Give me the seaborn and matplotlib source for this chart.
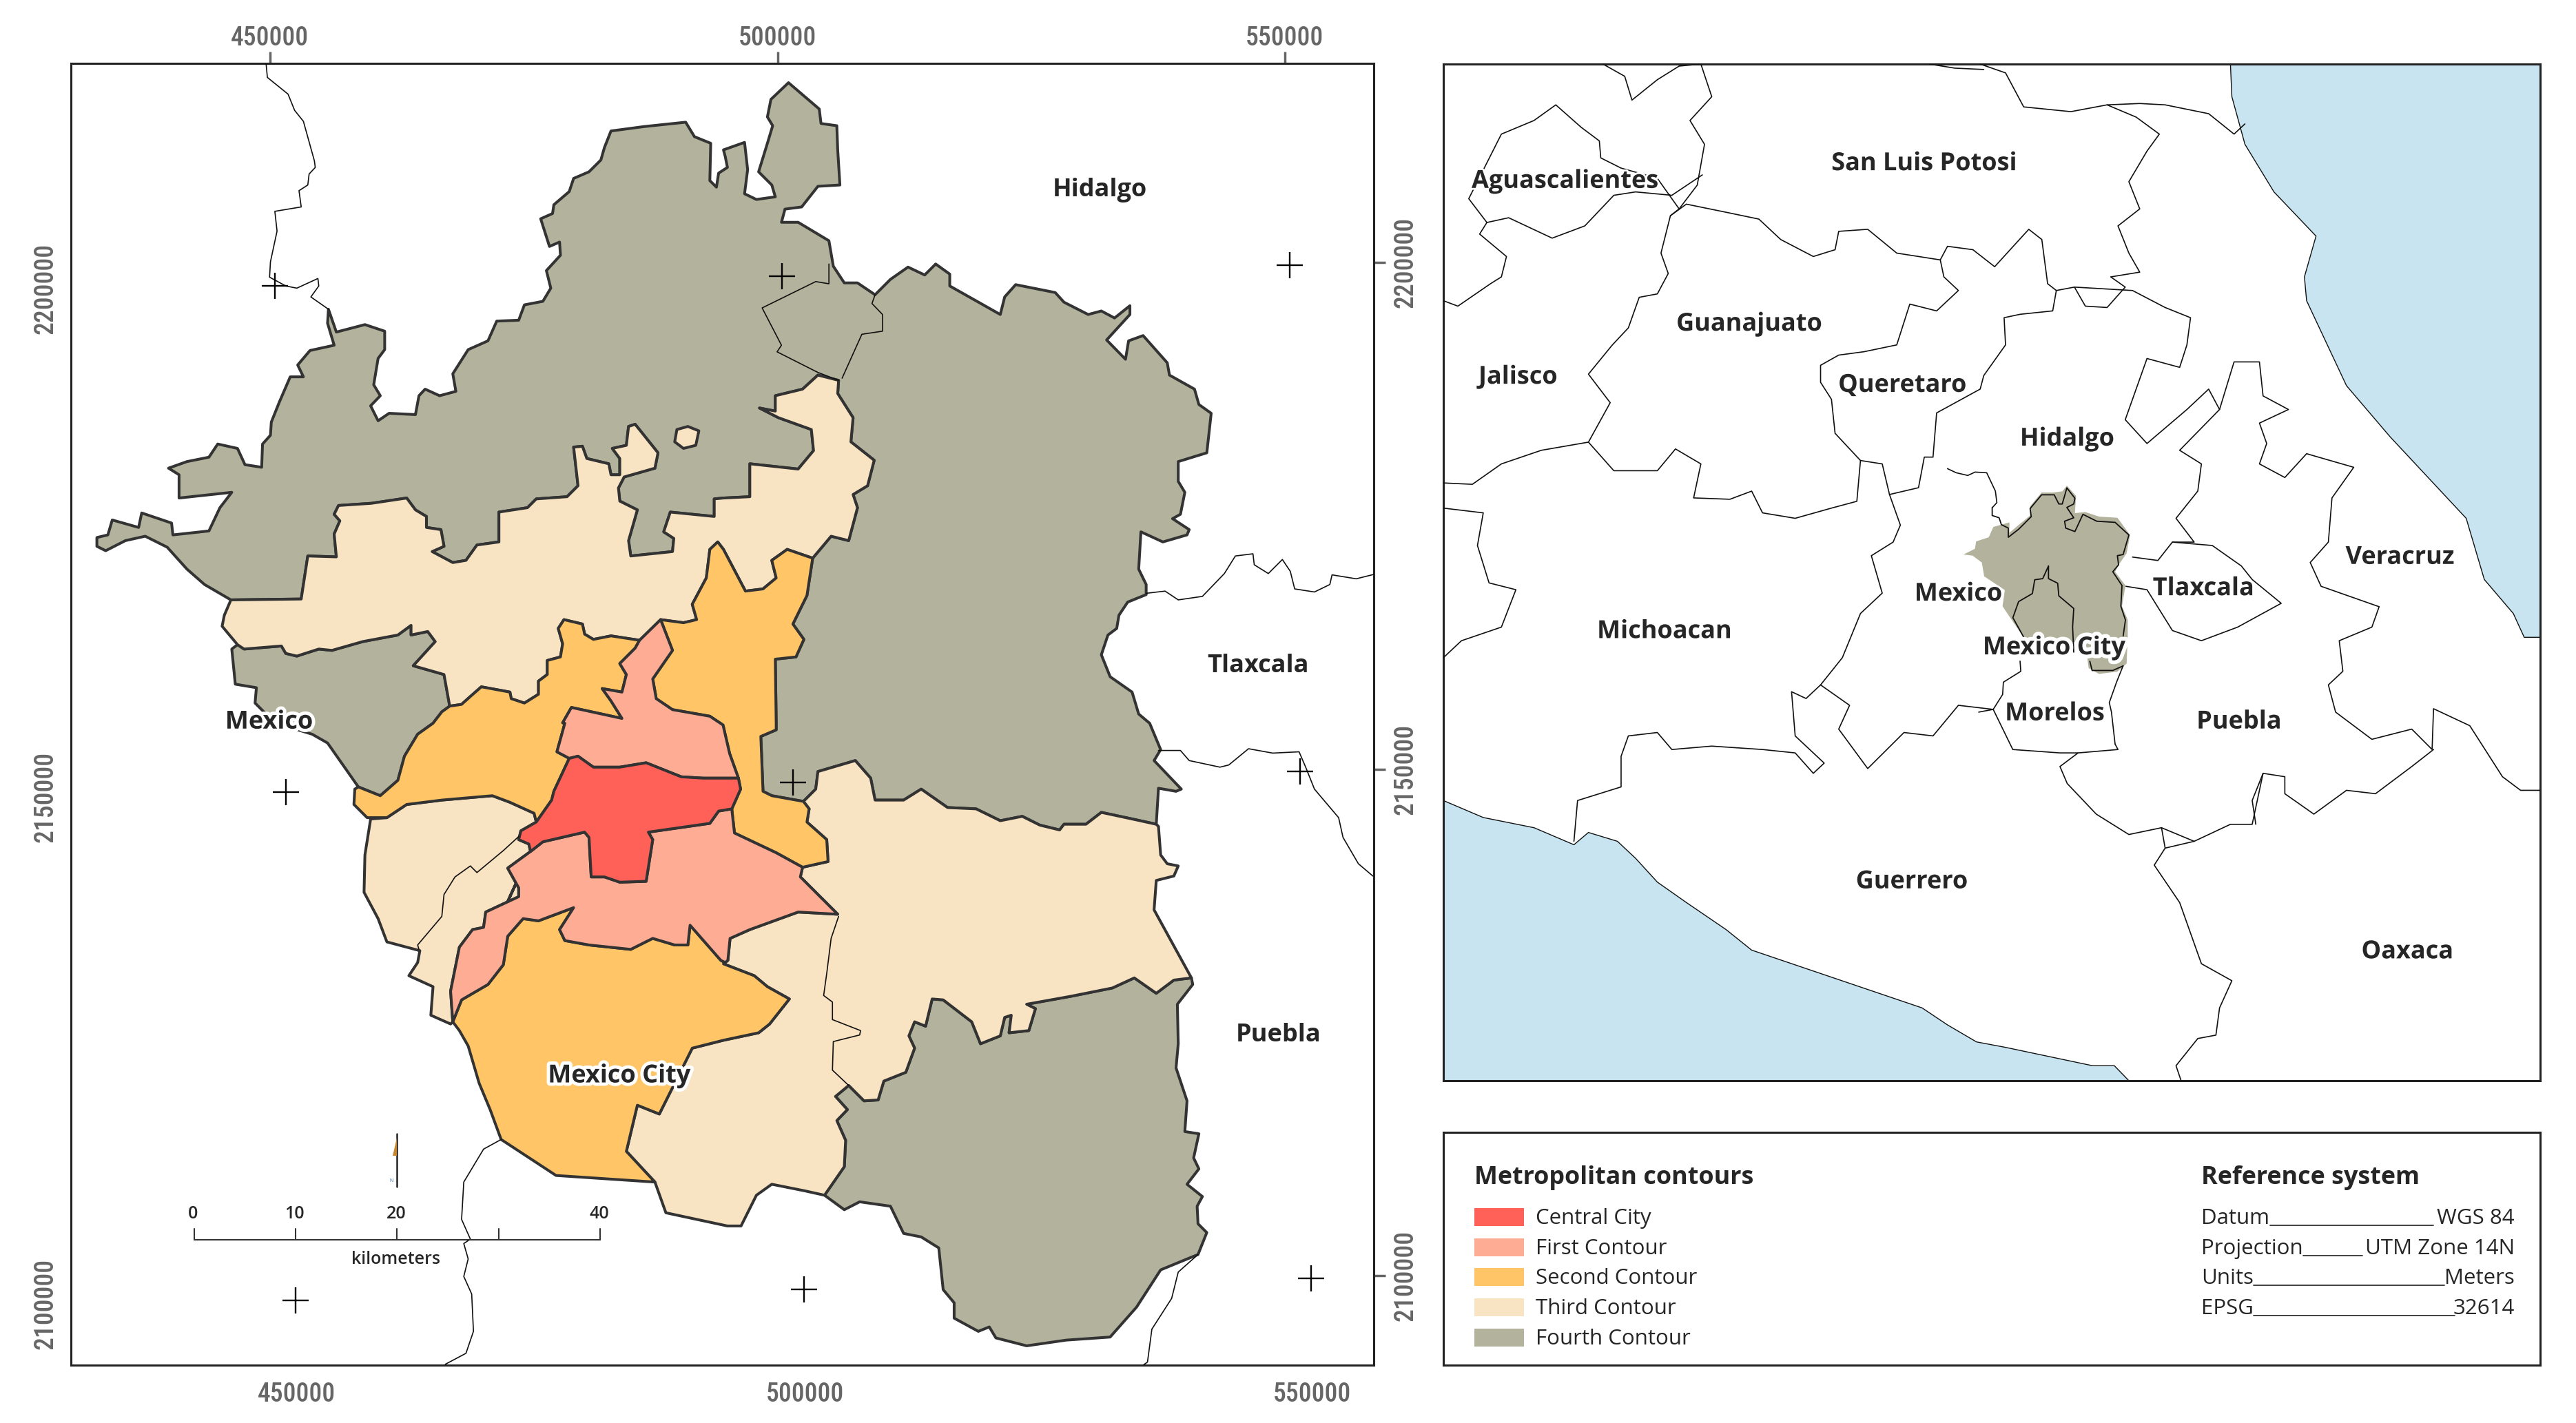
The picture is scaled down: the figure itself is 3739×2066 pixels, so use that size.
import numpy as np
import matplotlib
matplotlib.use("Agg")
import matplotlib.pyplot as plt
import matplotlib.patheffects as pe
from matplotlib import font_manager as fm
from matplotlib.patches import Rectangle
import seaborn as sns

sns.set_theme(style="white")
plt.rcParams["font.family"] = ["Open Sans", "DejaVu Sans"]

W, H = 3739, 2066
Z = 1521

def z2(p): return [(x + Z, y) for x, y in p]
def z3(p): return [(x, y + Z) for x, y in p]
def z6(p): return [(x + Z, y + Z) for x, y in p]
def rev(p): return list(p)[::-1]

# ---------- main map: shared boundary segments ----------
seg_A = ([(400,1240),(340,1205),(300,1170),(255,1120),(205,1095),(160,1105),(115,1128),(95,1118),(95,1098),(120,1092),
          (130,1058),(190,1075),(197,1042),(265,1065),(268,1092),(350,1083),(375,1030),(402,995),(282,1008),(282,955),
          (258,940),(300,925),(350,915),(370,885),(415,895),(432,932),(470,938),(472,885),(490,865),(492,835),(510,790),
          (535,732),(565,732),(552,705),(580,672),(635,660),(620,610),(622,578),(640,630),(705,613),(750,628),(750,670),
          (735,690),(725,750),(740,775),(718,798),(735,832),(760,815),(820,818),(828,775),(842,760),(875,775),(912,765),
          (905,725),(940,670),(985,650),(1005,605),(1055,603),(1068,568),(1110,560),(1128,530),(1118,490),(1150,455),
          (1148,425),(1125,435),(1105,372),(1132,360),(1135,340),(1170,310),(1180,280),(1215,265),(1242,238),(1250,210),
          (1265,172),(1340,162),(1435,152),(1455,185),(1492,200),(1490,285),(1505,300),(1510,268),(1530,255),(1525,230)]
         + z2([(0,215),(48,198),(55,260),(48,315),(75,328),(118,322),(110,295),(80,265),(100,200),(112,160),(100,140),
               (108,100),(148,62),(218,122),(222,155),(258,160),(260,215),(265,295),(215,298),(178,345),(140,350),(132,380),
               (170,380),(240,422),(250,480),(275,518),(305,518),(345,545),(380,510),(420,482),(458,500),(483,475),(515,498),
               (515,525),(630,590),(640,550),(665,522),(755,540),(775,562),(830,590),(860,582),(890,598),(925,570),(925,590),
               (872,648),(915,692),(922,650),(955,638),(1010,700),(1015,728),(1072,760),(1082,795),(1110,815),(1100,905),
               (1035,925),(1035,970),(1050,995),(1040,1045),(1022,1055),(1060,1080),(1055,1092),(1000,1108),(950,1085),
               (945,1170),(962,1205),(962,1228),(920,1245),(900,1275),(895,1305),(875,1320),(860,1365),(880,1415),(930,1450),
               (945,1500)])
         + z6([(970,0),(995,60),(980,85),(1042,150),(1030,155),(990,148),(985,230)]))
seg_B = z6([(985,230),(930,218),(860,203),(825,230),(775,230),(765,243),(720,232),(680,212),(630,222),(575,195),(510,192),
            (450,150),(410,175),(345,175),(335,125),(300,85),(215,110),(210,150),(182,178)])
seg_C = (z6([(182,178),(110,165),(90,155),(85,30),(120,15),(120,0)])
         + z2([(118,1375),(165,1370),(183,1330),(158,1295),(190,1230),(203,1145)]))
seg_D = (z2([(203,1145),(245,1095),(285,1105),(305,1030),(295,1000),(328,980),(343,922),(290,880),(295,825),(260,770),
             (262,740),(215,728),(180,760),(118,775),(118,810),(82,803),(125,825),(200,852),(205,900),(170,942),(60,930),
             (60,1005),(0,1008)])
         + [(1500,1010),(1500,1050),(1400,1040),(1385,1085),(1408,1100),(1405,1130),(1310,1140),(1305,1105),(1325,1035),
            (1285,1015),(1282,985),(1295,960),(1365,940),(1372,905),(1320,840),(1305,845),(1300,888),(1268,895),(1285,918),
            (1285,955),(1265,955),(1260,930),(1210,918),(1200,890),(1180,892),(1190,980),(1165,1005),(1095,1010),(1075,1030),
            (1010,1040),(1010,1108),(960,1115),(935,1150),(905,1155),(858,1130),(885,1118),(878,1080),(845,1075),(845,1050),
            (820,1035),(800,1008),(720,1020),(645,1025),(635,1045),(648,1060),(635,1090),(640,1142),(575,1140),(560,1238),
            (400,1240)])
seg_E1 = z2([(203,1145),(145,1125),(110,1150),(120,1190),(90,1215),(50,1220),(0,1125)]) + [(1508,1108)]
seg_E2 = [(1508,1108),(1490,1125),(1482,1190),(1450,1250),(1460,1285),(1430,1292),(1378,1285)]
seg_E4 = [(1330,1332),(1265,1322),(1225,1330),(1205,1318),(1200,1295),(1158,1285),(1145,1305),(1155,1340),(1150,1370),
          (1120,1378),(1120,1410),(1100,1425),(1100,1455),(1068,1475),(1038,1465),(1035,1450),(970,1438),(945,1460),
          (925,1478),(898,1482)]
seg_E5 = [(898,1482),(885,1410),(815,1390),(865,1335),(848,1312),(810,1320),(810,1298),(780,1320),(700,1335),(630,1355),
          (600,1352),(550,1368),(525,1362),(515,1345),(430,1352),(415,1342)]
seg_E6 = [(415,1342),(380,1300),(385,1275),(400,1240)]
seg_F1 = [(898,1482),(880,1495),(860,1521),(825,1546),(795,1596),(780,1651),(740,1686),(690,1666)]
seg_F2 = [(690,1666),(620,1566),(585,1546),(500,1520),(455,1475),(458,1440),(410,1432),(402,1352),(415,1342)]
seg_H = z3([(755,215),(800,185),(880,175),(995,165),(1035,180),(1090,205),(1095,225)])
seg_J = z3([(1095,225),(1130,175),(1135,155),(1170,80)])
seg_K = (z3([(1170,80),(1142,65),(1160,0)])
         + [(1155,1520),(1175,1485),(1290,1510),(1265,1470),(1245,1442),(1290,1450),(1300,1410),(1285,1385),(1320,1350),(1330,1332)])
seg_L = z3([(1170,80),(1190,75),(1225,100),(1285,100),(1345,90),(1425,122),(1475,125),(1555,125)])
seg_M = [(1378,1285),(1405,1355),(1360,1420),(1368,1465),(1405,1490),(1490,1505),(1520,1525),(1535,1590),(1555,1646)]
seg_N1 = z3([(1555,125),(1560,150),(1540,195)])
seg_N2 = z3([(1540,195),(1510,200),(1490,228),(1350,248),(1360,265),(1345,360),(1285,362),(1250,350),(1220,350),(1215,260),
             (1205,248),(1110,270),(1082,292)])
seg_N3 = z3([(1082,292),(1078,275),(1055,265),(1060,245),(1095,225)])
seg_O = z6([(182,178),(195,195),(190,225),(235,265),(238,315),(180,328)])
seg_Q = z6([(180,328),(120,295),(25,250),(20,205)]) + z3([(1540,195)])
seg_R = z6([(180,328),(175,350),(260,435)])
seg_V = z6([(260,435),(170,430),(60,470),(15,490),(10,540)]) + [(1525,2066)]
seg_W = [(1525,2066),(1515,2061),(1445,1981),(1440,2026),(1410,2026),(1360,2011),(1310,2036),(1215,2026),(1160,2016),
         (1148,1991),(1180,1941),(1100,1971),(1065,1966),(1030,2006),(1020,2071),(985,2116),(925,2151),(905,2201)]
seg_X = [(905,2201),(900,2131),(920,2031),(950,1991),(975,1986),(980,1951),(1055,1916),(1055,1896),(1030,1851),(1082,1813)]
seg_Y = z3([(755,215),(718,218),(705,300),(703,385),(735,445),(755,498),(830,518),(825,545),(805,575),(860,600),(855,665),
            (900,685)]) + [(905,2201)]
seg_Z = [(905,2201),(920,2221),(940,2256),(965,2341),(990,2401),(1015,2469),(1140,2551),(1365,2566)]
seg_AA = [(1365,2566),(1300,2496),(1325,2391),(1375,2411),(1450,2261),(1521,2243),(1601,2226),(1626,2206),(1671,2149),
          (1621,2121),(1591,2096),(1521,2069),(1525,2066)]
seg_BB = [(1365,2566),(1390,2636),(1530,2666),(1561,2666),(1596,2596),(1631,2571),(1706,2586),(1751,2596)]
seg_CC = [(1751,2596),(1796,2531),(1799,2471),(1779,2426),(1803,2401),(1776,2371),(1806,2346)]
seg_DD = z6([(1065,580),(1025,585),(985,615),(935,580),(885,603),(790,622),(690,640),(710,650),(695,700),(650,705),(655,665),
             (640,670),(630,712),(585,730),(565,680),(500,630),(475,628),(460,690),(435,680),(422,712),(435,740),(415,795),
             (365,815),(352,858),(320,860),(285,825)])
seg_EE = z6([(985,230),(990,235),(995,300),(1010,320),(1035,325),(1025,348),(985,358),(980,425),(1065,580)])
seg_GG = z6([(1065,580),(1068,595),(1033,640),(1035,730),(1030,785),(1055,860),(1050,930),(1082,935),(1070,990),(1082,1015),
             (1055,1050),(1090,1078),(1078,1100),(1080,1140),(1100,1160),(1080,1210),(995,1245),(940,1330),(880,1398),(780,1405),
             (690,1418),(620,1400),(605,1375),(580,1385),(525,1355),(525,1320),(500,1290),(490,1195),(450,1170),(410,1162),
             (380,1100),(310,1090),(275,1108)]) + [(1751,2596)]
seg_S1_tip = z3([(690,145),(682,150),(680,185),(710,215),(755,215)])

central_city = seg_L + seg_N1 + seg_N2 + seg_N3 + seg_J
first_north = rev(seg_K) + seg_L + rev(seg_N1[:1]) + rev(seg_M)
first_south = rev(seg_Q) + seg_R + seg_V + seg_W + seg_X + rev(seg_N2)
second_nw = seg_E4 + seg_F1 + seg_S1_tip + seg_H + seg_J + seg_K
second_east = rev(seg_E1) + rev(seg_C) + seg_O + seg_Q + rev(seg_N1) + rev(seg_M) + rev(seg_E2)
second_south = seg_W + seg_Z + seg_AA
third_north = seg_E1 + seg_E2 + [(1330,1332)] + seg_E4 + seg_E5 + seg_E6 + rev(seg_D)
third_sw = seg_Y + rev(seg_X) + seg_N3 + rev(seg_H)
third_se = seg_V + rev(seg_AA) + seg_BB + seg_CC + rev(seg_DD) + rev(seg_EE) + seg_B + seg_O + seg_R
third_island = [(1415,852),(1440,845),(1465,855),(1458,888),(1430,895),(1410,880)]
fourth_main = seg_A + seg_B + seg_C + seg_D
fourth_west = rev(seg_E5) + seg_F1 + seg_F2
fourth_se = seg_DD + rev(seg_CC) + rev(seg_GG)

region_fill = [("Fourth Contour", fourth_main), ("Fourth Contour", fourth_west), ("Fourth Contour", fourth_se),
               ("Third Contour", third_north), ("Third Contour", third_sw), ("Third Contour", third_se),
               ("Third Contour", third_island), ("Second Contour", second_nw), ("Second Contour", second_east),
               ("Second Contour", second_south), ("First Contour", first_north), ("First Contour", first_south),
               ("Central City", central_city)]

main_thin = [
    [(480,18),(483,50),(530,88),(545,125),(565,150),(590,240),(592,255),(578,270),(575,295),(555,308),(560,345),(500,355),
     (505,400),(490,470),(488,505),(525,525),(550,530),(598,508),(600,525),(582,550),(622,578)],
    z2([(962,1225),(1005,1220),(1035,1240),(1090,1232),(1140,1180),(1165,1140),(1205,1135),(1208,1160),(1240,1180),(1272,1148),
        (1290,1175),(1300,1215),(1345,1222),(1380,1205),(1385,1183),(1440,1192),(1480,1182)]),
    z6([(990,62),(1040,62),(1060,85),(1130,100),(1150,95),(1195,58),(1250,68),(1310,65),(1325,100),(1345,150),(1400,215),
        (1410,260),(1445,320),(1478,348)]),
    z3([(1015,948),(975,970),(930,1045),(925,1130),(945,1175),(930,1185),(940,1220),(930,1260),(948,1300),(952,1385),(935,1435),
        (888,1460)]),
    z6([(1080,1210),(1035,1250),(1020,1310),(975,1380),(965,1455),(955,1462)]),
    z2([(240,475),(240,520),(210,515),(88,575),(132,660),(122,675),(215,722),(262,740)]),
    z2([(345,545),(338,565),(362,590),(362,628),(315,635),(270,735)]),
    z3([(1055,258),(1020,290),(960,340),(945,325),(910,350),(885,390),(880,440),(825,505),(828,515)]),
    z6([(262,440),(245,490),(235,570),(228,620),(248,635),(248,675),(312,700),(310,710),(250,725),(248,790),(285,825)]),
]
cross_x = [500, 133+Z, 1288+Z, 525, 547, 158+Z, 184+Z, 1312+Z, 1338+Z]
cross_y = [524, 502, 477, 157+Z, 1315+Z, 135+Z, 1290+Z, 110+Z, 1265+Z]

top_ticks = [489, 1644, 2798]
bottom_ticks = [549, 1706, 2861]
left_ticks = [531, 1689, 2843]
right_ticks = [471, 1626, 2779]
easting_labels = ["450000", "500000", "550000"]
northing_labels = ["2200000", "2150000", "2100000"]

main_labels = [("Hidalgo", 2377, 305), ("Tlaxcala", 2738, 1388), ("Puebla", 2784, 2229), ("Mexico", 487, 1517), ("Mexico City", 1284, 2323)]

scale_km = [0, 10, 20, 30, 40]
scale_text = ["0", "10", "20", "", "40"]

# ---------- locator map ----------
sea_ne = [(1090,12),(1092,60),(1110,130),(1150,200),(1208,265),(1192,325),(1195,360),(1250,485),(1310,560),(1415,680),(1440,770),
          (1480,820),(1495,855),(1517,855),(1517,12)]
sea_sw = [(5,1095),(60,1120),(130,1135),(185,1160),(205,1142),(245,1155),(270,1180),(300,1215),(340,1245),(395,1285),(430,1315),
          (665,1400),(700,1425),(740,1450),(780,1458),(900,1485),(930,1485),(950,1507),(5,1507)]
state_lines = [
    [(330,225),(300,180),(250,165),(222,150),(220,125),(195,105),(160,72),(130,95),(85,115),(40,210),(65,245),(95,238),(155,268),(200,250),(240,205),(270,200),(320,205),(362,175)],
    [(225,12),(255,30),(265,65),(300,35),(330,15),(360,12),(375,60),(345,95),(365,130),(355,190),(330,225),(318,235),(305,290),(315,320),(300,350),(275,355),(260,400),(238,425),(205,468),(235,510),(205,568)],
    [(318,235),(340,218),(395,230),(440,240),(470,270),(515,295),(545,285),(550,258),(590,255),(630,290),(690,300),(700,280),(735,285),(765,310),(812,255),(830,270),(838,335),(850,345),(875,340),(890,368),(920,370),(945,340),(925,325),(965,318),(950,290),(935,250),(965,225),(950,185),(975,140),(992,115),(960,90),(920,72),(870,82),(805,75),(780,25),(745,12)],
    [(675,12),(710,18),(750,20)],
    [(920,72),(965,70),(1000,72),(1060,85),(1095,115),(1110,100)],
    [(5,360),(25,368),(70,335),(85,325),(92,295),(55,262),(65,245)],
    [(5,628),(45,630),(85,600),(140,580),(205,568),(240,610),(300,610),(325,578),(360,600),(350,650),(400,652),(430,640),(445,672),(490,680),(540,665),(575,655),(580,595),(545,555),(540,505),(525,480),(525,455),(550,440),(585,435),(630,425),(648,365),(685,375),(715,345),(695,325),(690,300)],
    [(580,595),(610,600),(620,645),(660,635),(668,590),(680,590),(685,525),(745,490),(750,470),(780,425),(778,385),(800,380),(845,375),(850,345)],
    [(875,340),(955,345),(1000,370),(1035,385),(1030,425),(1020,458),(975,445),(960,490),(945,535),(975,570),(1030,520),(1060,490),(1075,520),(1095,450),(1130,450),(1135,500),(1170,520),(1130,540),(1140,570),(1130,600),(1165,620),(1195,585),(1260,605),(1230,650),(1225,715),(1200,745),(1215,780),(1295,810),(1285,840),(1240,860),(1245,905),(1225,925),(1235,965),(1285,1005),(1340,990),(1368,1020),(1370,960),(1420,985),(1465,1060),(1490,1080),(1517,1080)],
    [(1075,520),(1020,580),(1050,600),(1045,640),(1015,680),(1040,715),(1010,715),(990,742),(955,737)],
    [(1010,715),(1065,720),(1105,750),(1120,770),(1160,805),(1100,840),(1050,860),(1010,845),(975,785),(946,780)],
    [(620,645),(635,690),(625,715),(595,735),(610,790),(580,820),(555,885),(525,925),(505,945),(485,935),(490,1000),(530,1040),(515,1055),(490,1025),(445,1020),(375,1015),(320,1020),(300,995),(260,1000),(250,1030),(250,1075),(190,1095),(185,1155)],
    [(525,925),(565,955),(550,990),(590,1048),(640,995),(680,1000),(715,955),(763,961)],
    [(763,961),(790,1020),(855,1025),(880,1025),(935,1020),(931,1012)],
    [(880,1025),(855,1045),(865,1070),(905,1115),(950,1145),(995,1135),(1040,1155),(1090,1130),(1120,1130),(1135,1055),(1165,1060),(1165,1085),(1205,1115),(1250,1080),(1290,1085),(1340,1045),(1370,1020)],
    [(1135,1055),(1120,1095),(1125,1130)],
    [(995,1135),(1000,1165),(985,1190),(1020,1245),(1050,1335),(1092,1360),(1075,1400),(1070,1440),(1045,1445),(1015,1485),(1022,1507)],
    [(1000,1165),(1040,1155)],
    [(5,665),(60,672),(52,720),(68,775),(105,785),(85,840),(30,860),(5,885)],
    [(700,607),(712,613),(728,617),(738,612),(754,613),(766,640),(768,657),(762,664)],
    [(800,890),(801,905),(777,921),(776,939),(763,961),(743,965)],
    [(942,897),(933,921),(923,951),(926,965),(931,1012)],
]
metro_inset = [(210,375),(260,350),(265,318),(320,300),(340,255),(410,235),(410,280),(500,205),(500,165),(550,105),(600,105),(640,100),(660,75),(700,120),(695,195),(740,190),(800,210),(880,215),(935,290),(920,370),(885,420),(870,450),(915,510),(900,600),(925,660),(925,730),(920,850),(880,885),(800,895),(755,870),(740,760),(475,740),(420,660),(380,600),(390,530),(300,470),(290,410),(250,380)]
inset_lines = [
    [(335,170),(335,205),(365,215),(375,245),(405,260),(405,300),(450,265),(505,210),(500,175),(550,115),(605,115),(625,155),(640,155),(660,85),(695,130),(690,155),(660,170),(690,215),(650,230),(655,260),(695,275),(730,200),(790,230),(870,235),(930,290),(905,375),(880,380),(885,420),(860,450),(900,510),(895,600),(915,660),(905,730)],
    [(580,425),(555,480),(520,485),(510,545),(450,580),(425,650),(475,740)],
    [(580,425),(580,480),(620,500),(625,555),(690,610),(685,690),(690,800)],
    [(760,840),(770,880),(860,880),(905,860)],
]
inset_labels = [("Aguascalientes",173,183),("San Luis Potosi",668,157),("Guanajuato",427,393),("Jalisco",108,471),("Queretaro",638,483),
                ("Hidalgo",865,562),("Veracruz",1324,736),("Tlaxcala",1053,782),("Mexico",715,790),("Michoacan",310,845),
                ("Mexico City",847,869),("Morelos",848,966),("Puebla",1102,978),("Guerrero",651,1213),("Oaxaca",1334,1316)]

# ---------- legend ----------
legend_names = ["Central City", "First Contour", "Second Contour", "Third Contour", "Fourth Contour"]
legend_colors = ["#ff6159", "#ffac95", "#ffc566", "#f8e3c2", "#b3b29d"]
reference_keys = ["Datum", "Projection", "Units", "EPSG"]
reference_vals = ["WGS 84", "UTM Zone 14N", "Meters", "32614"]
reference_rule_start = [3295, 3343, 3271, 3271]
reference_rule_end = [3532, 3429, 3548, 3563]

palette = dict(zip(legend_names, legend_colors))
EDGE = "#333333"
TXT = "#262626"
GREY = "#666666"
installed = {f.name for f in fm.fontManager.ttflist}
NARROW = next((n for n in ["Liberation Sans Narrow", "Roboto Condensed", "Open Sans Condensed", "Noto Sans Condensed"]
               if n in installed), "Roboto")
TICK_SIZE = 27 if NARROW != "Roboto" else 24.5


def add_ax(x0, y0, x1, y1):
    ax = fig.add_axes([x0 / W, 1 - y1 / H, (x1 - x0) / W, (y1 - y0) / H])
    ax.set_xticks([]); ax.set_yticks([])
    for s in ax.spines.values():
        s.set_linewidth(2.2); s.set_color("#222222")
    return ax


def thin(ax, pts, lw=1.2, color="#111111", zorder=5):
    a = np.array(pts, float)
    sns.lineplot(x=a[:, 0], y=a[:, 1], sort=False, estimator=None, ax=ax, color=color, linewidth=lw,
                 legend=False, zorder=zorder)


def halo(w=5):
    return [pe.withStroke(linewidth=w, foreground="white")]


fig = plt.figure(figsize=(W / 100, H / 100), dpi=100, facecolor="white")

# main map
ax = add_ax(103, 92, 1994, 1982)
for name, ring in region_fill:
    a = np.array(ring, float)
    ax.fill(a[:, 0], a[:, 1], facecolor=palette[name], edgecolor=EDGE, linewidth=2.9, joinstyle="round", zorder=3)
for line in main_thin:
    thin(ax, line, zorder=4)
sns.scatterplot(x=cross_x, y=cross_y, marker="+", s=720, color="black", linewidth=1.7, ax=ax, legend=False, zorder=6)
ax.set_xlim(36, 3001); ax.set_ylim(2983, 18)
ax.set_xticks(bottom_ticks, easting_labels)
ax.set_yticks(left_ticks, northing_labels, rotation=90, va="center")
top = ax.secondary_xaxis("top"); top.set_xticks(top_ticks, easting_labels)
right = ax.secondary_yaxis("right"); right.set_yticks(right_ticks, northing_labels, rotation=90, va="center")
ax.tick_params(axis="x", length=12, width=2.5, color=GREY, labelcolor=GREY, labelsize=TICK_SIZE, pad=5)
ax.tick_params(axis="y", length=12, width=2.5, color=GREY, labelcolor=GREY, labelsize=TICK_SIZE, pad=1)
top.tick_params(axis="x", length=12, width=2.5, color=GREY, labelcolor=GREY, labelsize=TICK_SIZE, pad=1)
right.tick_params(axis="y", length=12, width=2.5, color=GREY, labelcolor=GREY, labelsize=TICK_SIZE, pad=8)
for lab in ax.get_xticklabels() + ax.get_yticklabels() + top.get_xticklabels() + right.get_yticklabels():
    lab.set_family(NARROW)
    lab.set_fontweight("medium")
for s in list(top.spines.values()) + list(right.spines.values()):
    s.set_visible(False)
for name, x, y in main_labels:
    t = ax.text(x, y + 2, name, ha="center", va="center", fontsize=26, fontweight="bold", color=TXT, zorder=8)
    if name in ("Mexico", "Mexico City"):
        t.set_path_effects(halo(7))

# scale bar and north arrow
SX0, KM, SY = 316, 23.12, 1176 + Z
sx = [SX0 + k * KM for k in scale_km]
thin(ax, [(sx[0], SY), (sx[-1], SY)], lw=1.5, color="#333333", zorder=7)
for x, lab in zip(sx, scale_text):
    thin(ax, [(x, SY), (x, SY - 24)], lw=1.5, color="#333333", zorder=7)
    if lab:
        ax.text(x - 2, SY - 58, lab, ha="center", va="center", fontsize=18, fontweight="semibold", color=TXT, zorder=8)
ax.text(775, SY + 45, "kilometers", ha="center", va="center", fontsize=18, fontweight="semibold", color=TXT, zorder=8)
thin(ax, z3([(777, 935), (777, 1055)]), lw=1.8, color="#222222", zorder=7)
north = np.array(z3([(777, 945), (777, 985), (768, 985)]), float)
ax.fill(north[:, 0], north[:, 1], facecolor="#c8862e", edgecolor="none", zorder=7)
ax.text(765, 1042 + Z, "N", ha="center", va="center", fontsize=5, color="#3a6ea5", zorder=7)

# locator map
ax2 = add_ax(2095, 93, 3687, 1569)
for sea in (sea_ne, sea_sw):
    a = np.array(sea, float)
    ax2.fill(a[:, 0], a[:, 1], facecolor="#c7e4f0", edgecolor="#111111", linewidth=1.0, zorder=2)


def to_inset(pts):
    a = np.array(pts, float)
    return np.column_stack([655.5 + 0.3167 * a[:, 0], 606.6 + 0.3377 * a[:, 1]])


m = to_inset(metro_inset)
ax2.fill(m[:, 0], m[:, 1], facecolor=legend_colors[4], edgecolor="none", zorder=3)
for line in state_lines:
    thin(ax2, line, zorder=4)
for line in inset_lines:
    thin(ax2, to_inset(line), lw=1.3, zorder=4)
ax2.set_xlim(5, 1517); ax2.set_ylim(1507, 12)
for name, x, y in inset_labels:
    t = ax2.text(x, y + 2, name, ha="center", va="center", fontsize=26, fontweight="bold", color=TXT, zorder=8)
    t.set_path_effects(halo(8 if name == "Mexico City" else 4))

# legend box
ax3 = add_ax(2095, 1644, 3687, 1982)
ax3.set_xlim(2095, 3687); ax3.set_ylim(1982, 1644)
ax3.text(2140, 1710, "Metropolitan contours", ha="left", va="center", fontsize=25.8, fontweight="bold", color=TXT)
ax3.text(3195, 1710, "Reference system", ha="left", va="center", fontsize=25.8, fontweight="bold", color=TXT)
for i, (name, c) in enumerate(zip(legend_names, legend_colors)):
    yc = 1767 + i * 43.7
    ax3.add_patch(Rectangle((2140, yc - 13), 72, 26, facecolor=c, edgecolor="none"))
    ax3.text(2229, yc + 2, name, ha="left", va="center", fontsize=22.5, color=TXT)
for i, (k, v, a0, a1) in enumerate(zip(reference_keys, reference_vals, reference_rule_start, reference_rule_end)):
    yc = 1767 + i * 43.7
    ax3.text(3195, yc + 2, k, ha="left", va="center", fontsize=22.5, color=TXT)
    ax3.text(3650, yc + 2, v, ha="right", va="center", fontsize=22.5, color=TXT)
    thin(ax3, [(a0, yc + 12), (a1, yc + 12)], lw=1.3, color="#333333")
ax3.set_xlim(2095, 3687); ax3.set_ylim(1982, 1644)

fig.savefig("out.png", dpi=100, facecolor="white")
